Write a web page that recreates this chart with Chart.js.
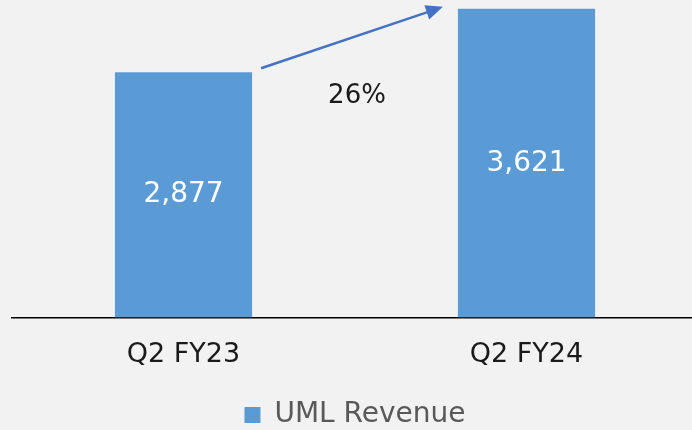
<!DOCTYPE html>
<html>
<head>
<meta charset="utf-8">
<script src="https://cdn.jsdelivr.net/npm/chart.js@4/dist/chart.umd.min.js"></script>
<style>
  html, body { margin: 0; padding: 0; background: #f2f2f2; overflow: hidden; width: 692px; height: 430px; }
  canvas { display: block; }
</style>
</head>
<body>
<canvas id="c" width="698" height="430"></canvas>
<script>
const categories = ['Q2 FY23', 'Q2 FY24'];
const revenue = [2877, 3621];
const growthLabel = '26%';
const seriesName = 'UML Revenue';

const FONT = '"DejaVu Sans", sans-serif';

const overlay = {
  id: 'overlay',
  afterDatasetsDraw(chart) {
    const ctx = chart.ctx;
    const meta = chart.getDatasetMeta(0);
    const b1 = meta.data[0], b2 = meta.data[1];
    ctx.save();
    // value labels centered inside bars
    ctx.fillStyle = '#ffffff';
    ctx.font = '28px ' + FONT;
    ctx.textAlign = 'center';
    ctx.textBaseline = 'middle';
    meta.data.forEach((bar, i) => {
      const cy = (bar.y + bar.base) / 2;
      ctx.fillText(revenue[i].toLocaleString('en-US'), bar.x, cy);
    });
    // arrow
    const x0 = b1.x + b1.width / 2 + 9, y0 = b1.y - 4;
    const x1 = b2.x - b2.width / 2 - 15, y1 = b2.y - 2;
    const ang = Math.atan2(y1 - y0, x1 - x0);
    const headLen = 17, headW = 7.5;
    const bx = x1 - headLen * Math.cos(ang), by = y1 - headLen * Math.sin(ang);
    ctx.strokeStyle = '#4472c4';
    ctx.fillStyle = '#4472c4';
    ctx.lineWidth = 2.5;
    ctx.beginPath();
    ctx.moveTo(x0, y0);
    ctx.lineTo(bx, by);
    ctx.stroke();
    ctx.beginPath();
    ctx.moveTo(x1, y1);
    ctx.lineTo(bx + headW * Math.sin(ang), by - headW * Math.cos(ang));
    ctx.lineTo(bx - headW * Math.sin(ang), by + headW * Math.cos(ang));
    ctx.closePath();
    ctx.fill();
    // growth label
    ctx.fillStyle = '#1a1a1a';
    ctx.font = '26px ' + FONT;
    ctx.fillText(growthLabel, (b1.x + b2.x) / 2 + 2, b1.y + 24);
    ctx.restore();
  }
};

new Chart(document.getElementById('c'), {
  type: 'bar',
  data: {
    labels: categories,
    datasets: [{
      label: seriesName,
      data: revenue,
      backgroundColor: '#5b9bd5',
      borderWidth: 0,
      barPercentage: 0.4,
      categoryPercentage: 1.0
    }]
  },
  options: {
    responsive: false,
    animation: false,
    devicePixelRatio: 1,
    layout: { padding: { left: 12, right: 0, top: 0, bottom: -9 } },
    scales: {
      x: {
        offset: true,
        grid: { display: false },
        border: { display: true, color: '#000000', width: 1.5 },
        ticks: { color: '#1a1a1a', font: { family: FONT, size: 27 }, padding: 13 }
      },
      y: { display: false, min: 0, max: 3725 }
    },
    plugins: {
      legend: {
        position: 'bottom',
        labels: {
          boxWidth: 16, boxHeight: 16, padding: 17,
          color: '#595959',
          font: { family: FONT, size: 28 }
        }
      },
      tooltip: { enabled: false }
    }
  },
  plugins: [overlay]
});
</script>
</body>
</html>
